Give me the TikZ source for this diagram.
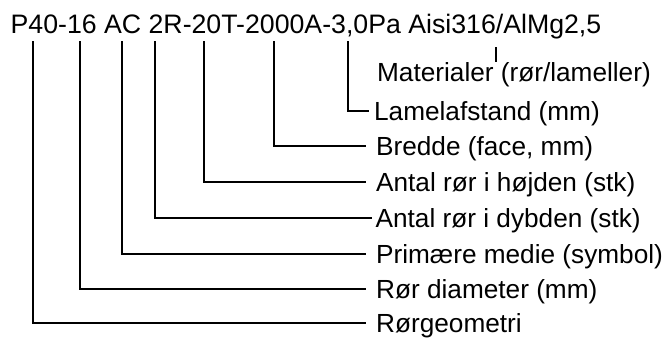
\documentclass[tikz,border=0pt]{standalone}
\usepackage{fontspec}
\setmainfont{Liberation Sans}

\begin{document}
\begin{tikzpicture}[x=1pt, y=-1pt, line width=1.3pt,
    every node/.style={font=\fontsize{26.2}{30}\selectfont, inner sep=0pt},
    desc/.style={anchor=west, text height=18.8pt, text depth=0pt}]
    \useasboundingbox (0,0) rectangle (671,338);
    \node[anchor=base west, font=\fontsize{26.7}{30}\selectfont] (code) at (10,33) {P40-16 AC 2R-20T-2000A-3,0Pa Aisi316/AlMg2,5};
    \foreach \n/\x/\y/\lx/\s/\t in {1/33/323/375.5/9.5/R{\o}rgeometri,
        2/80/289/375.5/9.5/R{\o}r diameter (mm),
        3/122/254/375.5/9.5/Prim{\ae}re medie (symbol),
        4/155/218/375/3/Antal r{\o}r i dybden (stk),
        5/204/182/375.5/9.5/Antal r{\o}r i h{\o}jden (stk),
        6/274/146/375.5/9.5/{Bredde (face, mm)},
        7/348/111/373.5/5/Lamelafstand (mm)} {
      \coordinate (tick\n) at (\x,41);
      \node[desc] (desc\n) at (\lx,\y) {\t};
      \draw[shorten >=\s pt] (tick\n) |- (desc\n.west);
    }
    \node[anchor=base west] (mat) at (376.5,81) {Materialer (r{\o}r/lameller)};
    \coordinate (mtop) at (496,47);
    \coordinate (mbot) at (496,62);
    \draw (mtop) -- (mbot);
  \end{tikzpicture}
\end{document}
